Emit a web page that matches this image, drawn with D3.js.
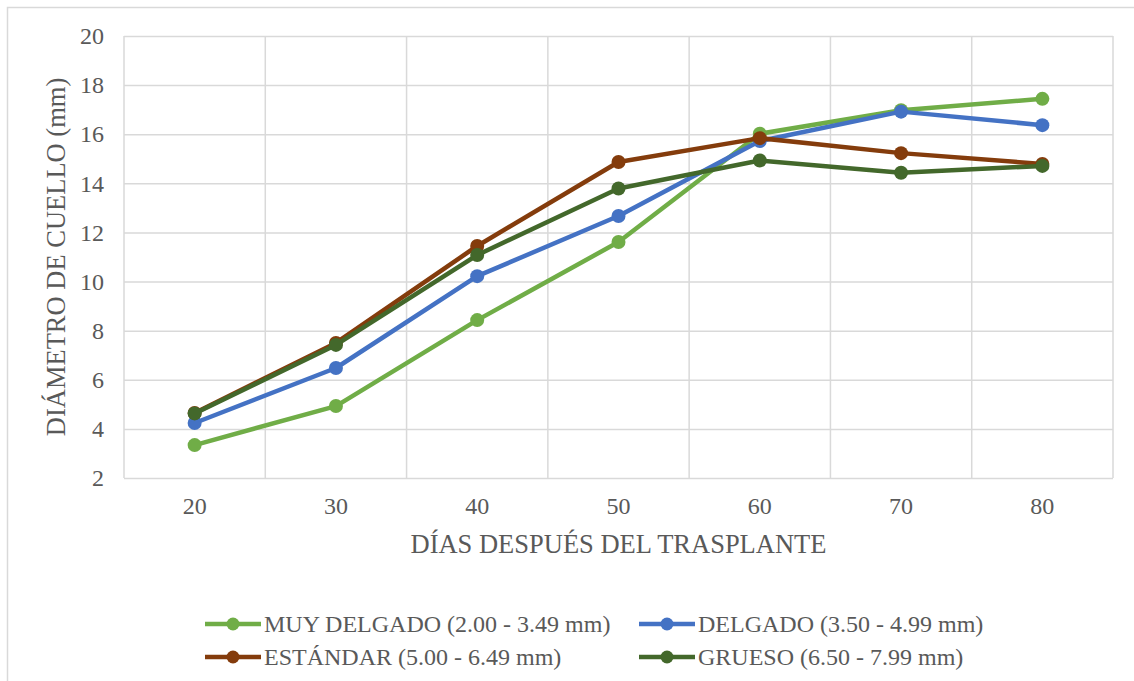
<!DOCTYPE html>
<html>
<head>
<meta charset="utf-8">
<script src="https://cdn.jsdelivr.net/npm/d3@7"></script>
<style>
  body { margin: 0; background: #fff; }
</style>
</head>
<body>
<div id="chart"></div>
<script>
// chart data
const DAYS = [20, 30, 40, 50, 60, 70, 80];
const MUY_DELGADO = [3.34, 4.93, 8.43, 11.61, 16.02, 16.98, 17.44];
const DELGADO = [4.24, 6.48, 10.22, 12.67, 15.72, 16.92, 16.37];
const ESTANDAR = [4.65, 7.50, 11.45, 14.87, 15.84, 15.23, 14.79];
const GRUESO = [4.63, 7.42, 11.08, 13.79, 14.93, 14.43, 14.71];
const SERIES_NAMES = ["MUY DELGADO (2.00 - 3.49 mm)", "DELGADO (3.50 - 4.99 mm)",
                      "ESTÁNDAR (5.00 - 6.49 mm)", "GRUESO (6.50 - 7.99 mm)"];
const COLORS = ["#70AD47", "#4472C4", "#843C0C", "#43682B"];
const Y_TICKS = [2, 4, 6, 8, 10, 12, 14, 16, 18, 20];
const FONT = "'Liberation Serif', 'Times New Roman', serif";

// setting up constants
const FRAME_WIDTH = 1134;
const FRAME_HEIGHT = 681;
const MARGINS = {left: 124, right: 21, top: 36, bottom: 203};
const VIS_WIDTH = FRAME_WIDTH - MARGINS.left - MARGINS.right;
const VIS_HEIGHT = FRAME_HEIGHT - MARGINS.top - MARGINS.bottom;

const FRAME = d3.select("#chart")
    .append("svg")
    .attr("width", FRAME_WIDTH)
    .attr("height", FRAME_HEIGHT);

// outer chart border
FRAME.append("rect")
    .attr("x", 7.5).attr("y", 7.5)
    .attr("width", FRAME_WIDTH)
    .attr("height", FRAME_HEIGHT)
    .attr("fill", "none")
    .attr("stroke", "#d9d9d9")
    .attr("stroke-width", 1.5);

const xScale = d3.scaleBand()
    .domain(DAYS)
    .range([0, VIS_WIDTH]);

const yScale = d3.scaleLinear()
    .domain([2, 20])
    .range([VIS_HEIGHT, 0]);

const plot = FRAME.append("g")
    .attr("transform", "translate(" + MARGINS.left + "," + MARGINS.top + ")");

// horizontal grid + y labels
plot.append("g")
    .call(d3.axisLeft(yScale).tickValues(Y_TICKS).tickSize(-VIS_WIDTH).tickFormat(d3.format("d")).tickPadding(20))
    .call(g => g.select(".domain").remove())
    .call(g => g.selectAll("line").attr("stroke", "#d9d9d9").attr("stroke-width", 1.5))
    .call(g => g.selectAll("text").style("font-family", FONT).style("font-size", "24px").style("fill", "#595959"));

// vertical grid at category edges
const edges = DAYS.map(d => xScale(d)).concat([VIS_WIDTH]);
plot.append("g").selectAll("line")
    .data(edges)
    .enter()
    .append("line")
    .attr("x1", d => d).attr("x2", d => d)
    .attr("y1", 0).attr("y2", VIS_HEIGHT)
    .attr("stroke", "#d9d9d9")
    .attr("stroke-width", 1.5);

// x axis labels
plot.append("g")
    .attr("transform", "translate(0," + VIS_HEIGHT + ")")
    .call(d3.axisBottom(xScale).tickSize(0).tickPadding(19))
    .call(g => g.select(".domain").remove())
    .call(g => g.selectAll("text").style("font-family", FONT).style("font-size", "24px").style("fill", "#595959"));

// axis titles
FRAME.append("text")
    .attr("x", MARGINS.left + VIS_WIDTH / 2)
    .attr("y", 553)
    .attr("text-anchor", "middle")
    .style("font-family", FONT).style("font-size", "26.5px").style("fill", "#595959")
    .text("DÍAS DESPUÉS DEL TRASPLANTE");

FRAME.append("text")
    .attr("transform", "translate(65," + (MARGINS.top + VIS_HEIGHT / 2) + ") rotate(-90)")
    .attr("text-anchor", "middle")
    .style("font-family", FONT).style("font-size", "26.5px").style("fill", "#595959")
    .text("DIÁMETRO DE CUELLO (mm)");

// lines and markers
const allSeries = [MUY_DELGADO, DELGADO, ESTANDAR, GRUESO];
const line = d3.line()
    .x((d, i) => xScale(DAYS[i]) + xScale.bandwidth() / 2)
    .y(d => yScale(d));

allSeries.forEach(function(vals, k) {
    const g = plot.append("g");
    g.append("path")
        .datum(vals)
        .attr("d", line)
        .attr("fill", "none")
        .attr("stroke", COLORS[k])
        .attr("stroke-width", 4.5)
        .attr("stroke-linejoin", "round");
    g.selectAll("circle")
        .data(vals)
        .enter()
        .append("circle")
        .attr("cx", (d, i) => xScale(DAYS[i]) + xScale.bandwidth() / 2)
        .attr("cy", d => yScale(d))
        .attr("r", 7)
        .attr("fill", COLORS[k]);
});

// legend
const legendPos = [[205, 624], [639, 624], [205, 657], [639, 657]];
SERIES_NAMES.forEach(function(name, k) {
    const g = FRAME.append("g")
        .attr("transform", "translate(" + legendPos[k][0] + "," + legendPos[k][1] + ")");
    g.append("line")
        .attr("x1", 0).attr("x2", 56)
        .attr("stroke", COLORS[k])
        .attr("stroke-width", 4.5);
    g.append("circle")
        .attr("cx", 28).attr("r", 6.5)
        .attr("fill", COLORS[k]);
    g.append("text")
        .attr("x", 59)
        .attr("dy", "0.35em")
        .style("font-family", FONT).style("font-size", "24px").style("fill", "#595959")
        .text(name);
});
</script>
</body>
</html>
